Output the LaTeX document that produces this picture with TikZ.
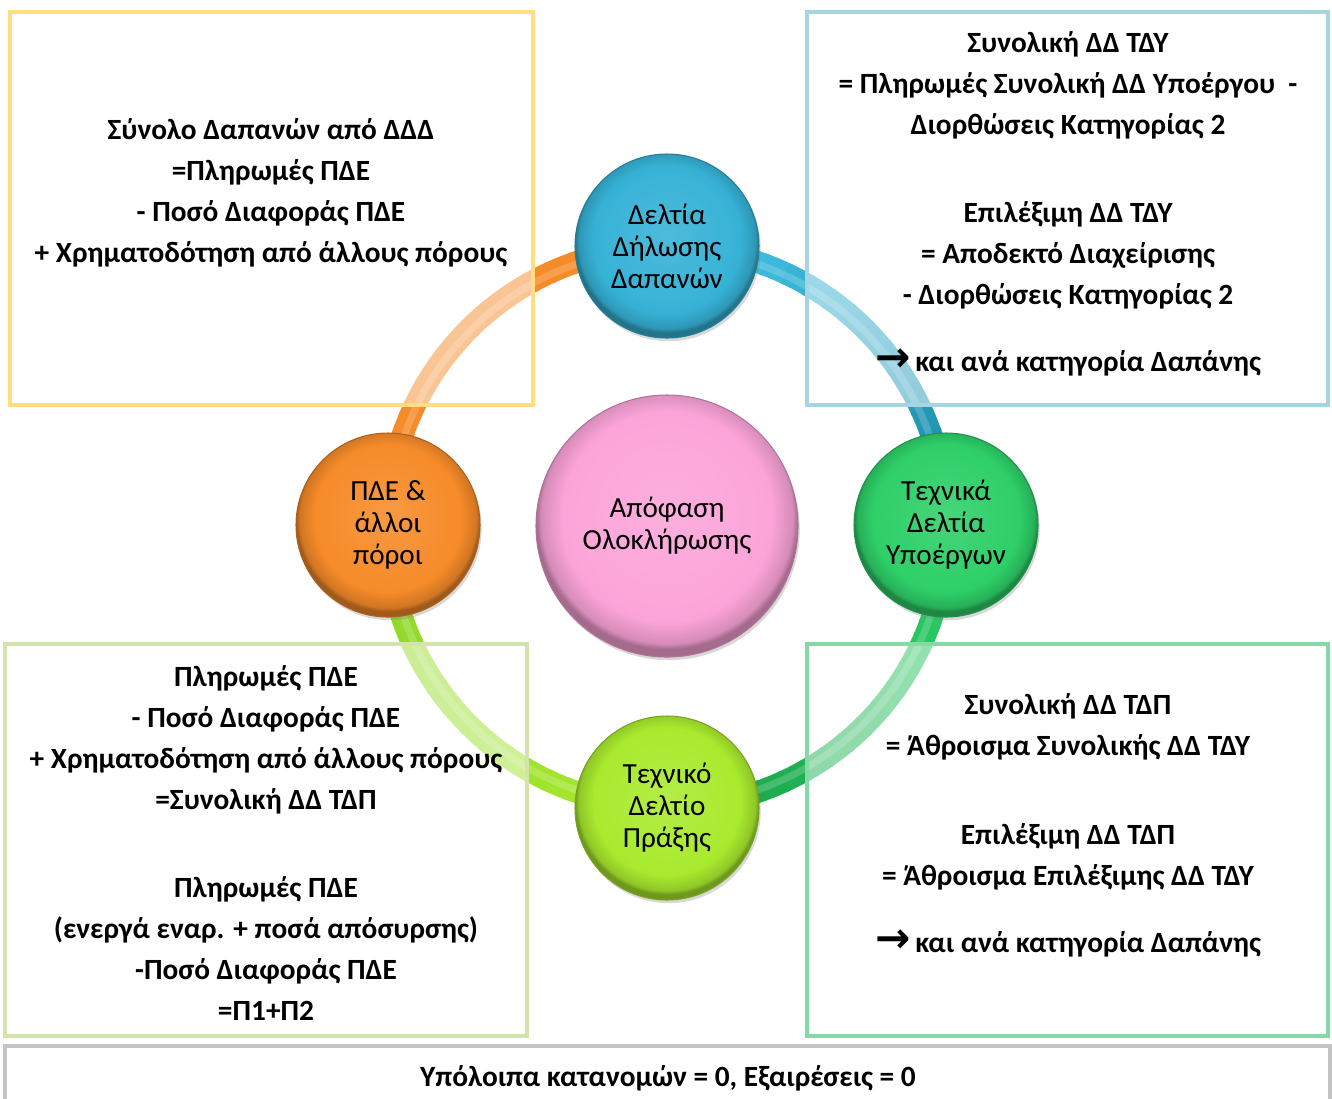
\documentclass[tikz,border=0pt]{standalone}
\usepackage{fontspec}
\setmainfont{Carlito}
\newfontfamily\arrowfont{DejaVu Sans}
\usetikzlibrary{shadows, positioning}
\definecolor{ddblue}{HTML}{36B2D6}
\definecolor{ddorange}{HTML}{F68B29}
\definecolor{ddgreen}{HTML}{2ECF68}
\definecolor{ddlime}{HTML}{A9EA2E}
\definecolor{ddpink}{HTML}{FCA4D9}
\definecolor{ringblue}{HTML}{45C6EA}
\definecolor{ringteal}{HTML}{1A88A3}
\definecolor{ringdkgreen}{HTML}{1AA24A}
\definecolor{ringlime}{HTML}{8ED52C}
\definecolor{boxyellow}{HTML}{FFDD80}
\definecolor{boxblue}{HTML}{A6D4E1}
\definecolor{boxlime}{HTML}{D3E3AB}
\definecolor{boxgreen}{HTML}{86D9A7}
\definecolor{boxgray}{HTML}{C4C4C4}
\colorlet{mainc}{ddblue}
\pgfdeclareradialshading[mainc]{rim}{\pgfpoint{0bp}{3bp}}{color(0bp)=(mainc!88!white); color(20bp)=(mainc); color(24bp)=(mainc!85!black); color(25bp)=(mainc!65!black); color(50bp)=(mainc!65!black)}
\tikzset{
  rimfill/.style={/utils/exec={\colorlet{mainc}{#1}}, shading=rim, draw=#1!70!black, line width=0.3pt,
    drop shadow={opacity=0.3, shadow xshift=0.5pt, shadow yshift=-0.9pt}},
  dot/.style={circle, minimum size=18.4mm, inner sep=0pt, align=center, font=\fontsize{8.3}{9.1}\selectfont},
  bigdot/.style={dot, minimum size=26.2mm},
  ringseg/.style={line width=2.2mm},
  ringshine/.style={line width=0.7mm, draw=white, draw opacity=0.18},
  panel/.style={line width=0.45mm, fill=white, fill opacity=0.5, draw opacity=1},
  boxtxt/.style={font=\bfseries\fontsize{8.35}{11.67}\selectfont, align=center, inner sep=0pt},
}
\begin{document}
\begin{tikzpicture}[x=0.1mm, y=-0.1mm]
\useasboundingbox (0,0) rectangle (1332,1098);
\clip (0,0) rectangle (1332,1098);
\fill[white] (0,0) rectangle (1332,1098);

\coordinate (mid) at (667,527);
% ring round the circles
\foreach \s/\ca/\cb in {180/ddorange/ddorange, 270/ringblue/ringteal, 0/ddgreen/ringdkgreen, 90/ddlime/ringlime}{
  \foreach \k in {0,...,17}{
    \pgfmathtruncatemacro{\p}{\k*100/17}
    \colorlet{arcc}{\cb!\p!\ca}
    \draw[ringseg, draw=arcc] (mid) ++(\s+\k*5:280) arc (\s+\k*5:\s+\k*5+5.6:280);
  }
}
\draw[ringshine] (mid) circle (278);

\node[dot, rimfill=ddblue] (ddd) at (667,246) {Δελτία\\Δήλωσης\\Δαπανών};
\node[dot, rimfill=ddorange] (pde) at (388,525) {ΠΔΕ \&\\άλλοι\\πόροι};
\node[dot, rimfill=ddgreen] (tdy) at (946,525) {Τεχνικά\\Δελτία\\Υποέργων};
\node[dot, rimfill=ddlime] (tdp) at (667,808) {Τεχνικό\\Δελτίο\\Πράξης};
\node[bigdot, rimfill=ddpink] (apof) at (667,526) {Απόφαση\\Ολοκλήρωσης};

% panels
\draw[panel, draw=boxyellow] (10,12) rectangle (533,405);
\draw[panel, draw=boxblue] (807,12) rectangle (1328,405);
\draw[panel, draw=boxlime] (5,644) rectangle (527,1036);
\draw[panel, draw=boxgreen] (807,644) rectangle (1328,1036);
\draw[panel, draw=boxgray, fill opacity=1] (5,1046) rectangle (1330,1130);

\node[boxtxt] (ddtext) at (271,193) {Σύνολο Δαπανών από ΔΔΔ\\=Πληρωμές ΠΔΕ\\- Ποσό Διαφοράς ΠΔΕ\\+ Χρηματοδότηση από άλλους πόρους};
\node[boxtxt] (tdytext) at (1068,204) {Συνολική ΔΔ ΤΔΥ\\= Πληρωμές Συνολική ΔΔ Υποέργου\ \ -\\Διορθώσεις Κατηγορίας 2\\[13.4pt]Επιλέξιμη ΔΔ ΤΔΥ\\= Αποδεκτό Διαχείρισης\\- Διορθώσεις Κατηγορίας 2\\[7.4pt]{\arrowfont\large →}\,και ανά κατηγορία Δαπάνης};
\node[boxtxt] (pdetext) at (266,843) {Πληρωμές ΠΔΕ\\- Ποσό Διαφοράς ΠΔΕ\\+ Χρηματοδότηση από άλλους πόρους\\=Συνολική ΔΔ ΤΔΠ\\[13.6pt]Πληρωμές ΠΔΕ\\(ενεργά εναρ. + ποσά απόσυρσης)\\-Ποσό Διαφοράς ΠΔΕ\\=Π1+Π2};
\node[boxtxt] (tdptext) at (1068,825) {Συνολική ΔΔ ΤΔΠ\\= Άθροισμα Συνολικής ΔΔ ΤΔΥ\\[13.6pt]Επιλέξιμη ΔΔ ΤΔΠ\\= Άθροισμα Επιλέξιμης ΔΔ ΤΔΥ\\[7.4pt]{\arrowfont\large →}\,και ανά κατηγορία Δαπάνης};
\node[boxtxt] (rest) at (668,1078) {Υπόλοιπα κατανομών = 0, Εξαιρέσεις = 0};
\end{tikzpicture}
\end{document}
